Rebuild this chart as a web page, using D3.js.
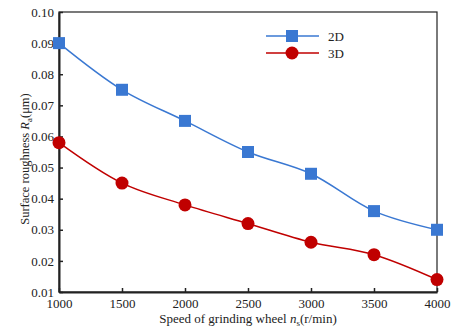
<!DOCTYPE html>
<html>
<head>
<meta charset="utf-8">
<script src="https://cdn.jsdelivr.net/npm/d3@7"></script>
<style>
body { margin: 0; background: #fff; }
text { font-family: "Liberation Serif", "Times New Roman", serif; fill: #222; }
</style>
</head>
<body>
<div id="chart"></div>
<script>
var speeds = [1000, 1500, 2000, 2500, 3000, 3500, 4000],
    ra2D = [0.090, 0.075, 0.065, 0.055, 0.048, 0.036, 0.030],
    ra3D = [0.058, 0.045, 0.038, 0.032, 0.026, 0.022, 0.014],
    xTicks = [1000, 1500, 2000, 2500, 3000, 3500, 4000],
    yTicks = [0.01, 0.02, 0.03, 0.04, 0.05, 0.06, 0.07, 0.08, 0.09, 0.10];

var margin = {top: 12, right: 14, bottom: 40, left: 59},
    chartWidth = 451,
    chartHeight = 332,
    width = chartWidth - margin.left - margin.right,
    height = chartHeight - margin.top - margin.bottom;

var svg = d3.select("#chart").append("svg")
    .attr("width", chartWidth)
    .attr("height", chartHeight)
    .append("g")
    .attr("transform", "translate(" + margin.left + "," + margin.top + ")");

var x = d3.scaleLinear().domain([1000, 4000]).range([0, width]);
var y = d3.scaleLinear().domain([0.01, 0.10]).range([height, 0]);

// marco
svg.append("rect")
   .attr("width", width).attr("height", height)
   .attr("fill", "none").attr("stroke", "#222").attr("stroke-width", 1.2);

var xAxis = d3.axisBottom(x).tickValues(xTicks).tickSizeInner(-4).tickSizeOuter(0).tickPadding(7).tickFormat(d3.format("d"));
var yAxis = d3.axisLeft(y).tickValues(yTicks).tickSizeInner(-4).tickSizeOuter(0).tickPadding(5).tickFormat(d3.format(".2f"));

var gx = svg.append("g").attr("transform", "translate(0," + height + ")").call(xAxis);
var gy = svg.append("g").call(yAxis);
[gx, gy].forEach(function (g) {
  g.select(".domain").attr("stroke", "#222").attr("stroke-width", 2);
  g.selectAll(".tick line").attr("stroke", "#222").attr("stroke-width", 1.5);
  g.selectAll(".tick text").style("font-size", "13px").attr("fill", "#222");
});

var series = [
  {name: "2D", values: ra2D, color: "#3a78d2", shape: "square"},
  {name: "3D", values: ra3D, color: "#c00000", shape: "circle"}
];

var line = d3.line()
    .x(function (d, i) { return x(speeds[i]); })
    .y(function (d) { return y(d); })
    .curve(d3.curveCatmullRom.alpha(0.5));

function drawMarker(g, s, cx, cy) {
  if (s.shape === "square") {
    g.append("rect").attr("x", cx - 6).attr("y", cy - 6).attr("width", 12).attr("height", 12).attr("fill", s.color);
  } else {
    g.append("circle").attr("cx", cx).attr("cy", cy).attr("r", 6.5).attr("fill", s.color);
  }
}

series.forEach(function (s) {
  svg.append("path").datum(s.values)
     .attr("fill", "none").attr("stroke", s.color).attr("stroke-width", 1.5)
     .attr("d", line);
  var gm = svg.append("g");
  s.values.forEach(function (v, i) { drawMarker(gm, s, x(speeds[i]), y(v)); });
});

// leyenda
var legend = svg.append("g").attr("transform", "translate(" + (266 - margin.left) + "," + (36 - margin.top) + ")");
series.forEach(function (s, i) {
  var g = legend.append("g").attr("transform", "translate(0," + (i * 17) + ")");
  g.append("line").attr("x1", 0).attr("x2", 53).attr("stroke", s.color).attr("stroke-width", 1.5);
  drawMarker(g, s, 26, 0);
  g.append("text").attr("x", 62).attr("y", 5).style("font-size", "13px").text(s.name);
});

// titulos de ejes
var xl = svg.append("text")
   .attr("x", width / 2).attr("y", height + 31)
   .attr("text-anchor", "middle").style("font-size", "13px");
xl.append("tspan").text("Speed of grinding wheel ");
xl.append("tspan").style("font-style", "italic").text("n");
xl.append("tspan").attr("dy", 3).style("font-size", "9px").text("s");
xl.append("tspan").attr("dy", -3).text("(r/min)");

var yl = svg.append("text")
   .attr("transform", "translate(" + (-30) + "," + 147 + ") rotate(-90)")
   .attr("text-anchor", "middle").style("font-size", "12.5px");
yl.append("tspan").text("Surface roughness ");
yl.append("tspan").style("font-style", "italic").text("R");
yl.append("tspan").attr("dy", 3).style("font-size", "9px").text("a");
yl.append("tspan").attr("dy", -3).text("(μm)");
</script>
</body>
</html>
